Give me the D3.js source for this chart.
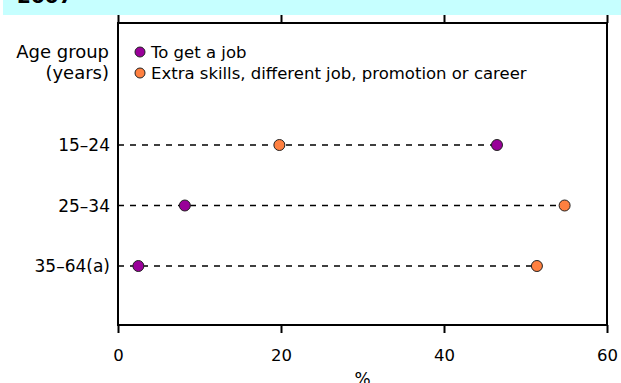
<!DOCTYPE html>
<html>
<head>
<meta charset="utf-8">
<script src="https://cdn.jsdelivr.net/npm/d3@7"></script>
<style>
  body { margin: 0; background: #fff; }
  svg { display: block; font-family: "DejaVu Sans", Verdana, sans-serif; }
</style>
</head>
<body>
<div id="chart"></div>
<script>
const ageGroups = ["15–24", "25–34", "35–64(a)"];
const toGetJob = [46.5, 8.2, 2.5];
const extraSkills = [19.8, 54.8, 51.4];
const xTicks = [0, 20, 40, 60];
const seriesNames = ["To get a job", "Extra skills, different job, promotion or career"];
const seriesColors = ["#990099", "#ff8040"];

const width = 621, height = 383;
const plotL = 118, plotR = 607, plotT = 23, plotB = 325;

const svg = d3.select("#chart").append("svg")
    .attr("width", width)
    .attr("height", height);

// title band (cropped at top)
svg.append("rect")
    .attr("x", 3).attr("y", 0)
    .attr("width", width - 3).attr("height", 15)
    .attr("fill", "#c6ffff");
svg.append("text")
    .attr("x", 17).attr("y", 3)
    .attr("font-size", 20).attr("font-weight", "bold")
    .text("2007");

const x = d3.scaleLinear().domain([0, 60]).range([plotL, plotR]);
const y = d3.scalePoint().domain(ageGroups).range([145, 266]);

// frame
svg.append("rect")
    .attr("x", plotL).attr("y", plotT)
    .attr("width", plotR - plotL).attr("height", plotB - plotT)
    .attr("fill", "none").attr("stroke", "#000").attr("stroke-width", 2);

// ticks top and bottom
const xAxisB = d3.axisBottom(x).tickValues(xTicks).tickSize(8).tickSizeOuter(0).tickFormat(d3.format("d"));
const gB = svg.append("g").attr("transform", `translate(0,${plotB})`).call(xAxisB);
gB.select(".domain").remove();
gB.selectAll(".tick line").attr("stroke", "#000").attr("stroke-width", 2);
gB.selectAll(".tick text").attr("font-size", 16.5).attr("font-family", "DejaVu Sans")
    .attr("y", 36).attr("dy", 0);

const xAxisT = d3.axisTop(x).tickValues(xTicks).tickSize(8).tickSizeOuter(0).tickFormat("");
const gT = svg.append("g").attr("transform", `translate(0,${plotT})`).call(xAxisT);
gT.select(".domain").remove();
gT.selectAll(".tick line").attr("stroke", "#000").attr("stroke-width", 2);

svg.append("text")
    .attr("x", x(30)).attr("y", 385)
    .attr("text-anchor", "middle").attr("font-size", 17)
    .text("%");

// y labels
svg.append("g").selectAll("text").data(ageGroups).join("text")
    .attr("x", 110).attr("y", d => y(d))
    .attr("dy", "0.36em")
    .attr("text-anchor", "end").attr("font-size", 17)
    .text(d => d);

svg.append("text").attr("x", 109).attr("y", 58)
    .attr("text-anchor", "end").attr("font-size", 18).text("Age group");
svg.append("text").attr("x", 109).attr("y", 79)
    .attr("text-anchor", "end").attr("font-size", 18).text("(years)");

// dashed lines
svg.append("g").selectAll("line").data(ageGroups).join("line")
    .attr("x1", plotL).attr("x2", (d, i) => x(Math.max(toGetJob[i], extraSkills[i])))
    .attr("y1", d => y(d)).attr("y2", d => y(d))
    .attr("stroke", "#000").attr("stroke-width", 1.7)
    .attr("stroke-dasharray", "6,6");

[toGetJob, extraSkills].forEach((vals, s) => {
    svg.append("g").selectAll("circle").data(vals).join("circle")
        .attr("cx", d => x(d))
        .attr("cy", (d, i) => y(ageGroups[i]))
        .attr("r", 5.5)
        .attr("fill", seriesColors[s])
        .attr("stroke", "#222").attr("stroke-width", 1);
});

// legend
const leg = svg.append("g");
seriesNames.forEach((name, i) => {
    const ly = 52 + i * 21;
    leg.append("circle").attr("cx", 140).attr("cy", ly).attr("r", 5)
        .attr("fill", seriesColors[i]).attr("stroke", "#222").attr("stroke-width", 1);
    leg.append("text").attr("x", 151).attr("y", ly).attr("dy", "0.36em")
        .attr("font-size", 16.5).text(name);
});
</script>
</body>
</html>
